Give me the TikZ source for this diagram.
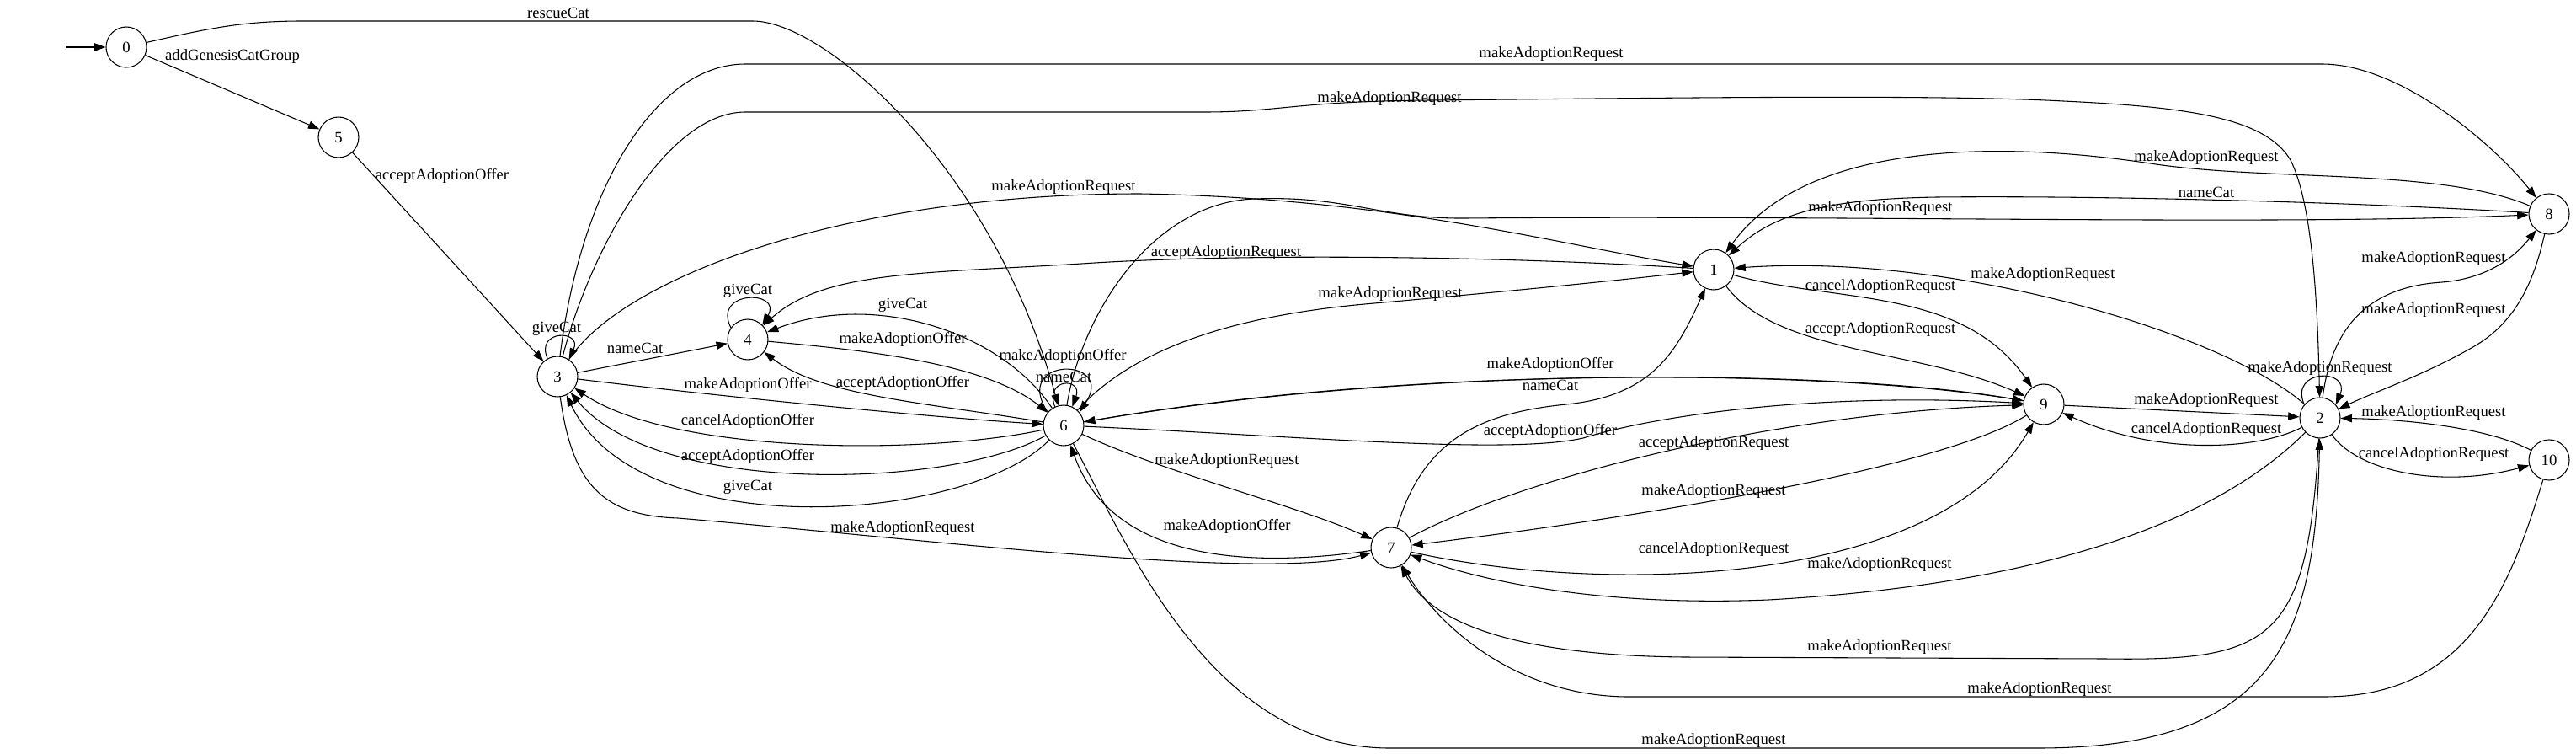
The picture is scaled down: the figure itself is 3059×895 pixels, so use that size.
\documentclass[tikz,border=0pt]{standalone}
\usepackage{fontspec}
\setmainfont{Liberation Serif}
\usetikzlibrary{arrows.meta}
\tikzset{
  st/.style={circle, draw, line width=0.8pt, minimum size=36pt, inner sep=0pt, font=\fontsize{14}{16}\selectfont},
  lbl/.style={inner sep=0pt, font=\fontsize{14}{16}\selectfont},
  tr/.style={draw, line width=0.8pt, -{Triangle[length=10pt,width=7pt]}},
}
\begin{document}
\begin{tikzpicture}[x=0.75pt,y=-0.75pt]
\useasboundingbox (0,0) rectangle (3059,895);
% states
\node[st] (n0) at (150,56) {0};
\node[st] (n5) at (402,163) {5};
\node[st] (n3) at (662,447) {3};
\node[st] (n4) at (888,403) {4};
\node[st] (n6) at (1263,505) {6};
\node[st] (n7) at (1652,650) {7};
\node[st] (n1) at (2035,320) {1};
\node[st] (n9) at (2427,480) {9};
\node[st] (n2) at (2755,496) {2};
\node[st] (n8) at (3027,254) {8};
\node[st] (n10) at (3027,546) {10};
\coordinate (s0) at (78,56);
% transitions
\draw[tr] (s0) -- (n0);
\draw[tr] (n0) -- (n5);
\draw[tr] (n0) .. controls (250,33) and (290,25) .. (360,25) -- (894,25) .. controls (980,25) and (1180,200) .. (n6);
\draw[tr] (n5) -- (n3);
\draw[tr] (n3.119) .. controls (635,391) and (692,391) .. (n3.56);
\draw[tr] (n3) -- (n4);
\draw[tr] (n4.145) .. controls (845,344) and (930,344) .. (n4.45);
\draw[tr] (n6) .. controls (1190,395) and (1040,345) .. (n4);
\draw[tr] (n1) .. controls (1800,305) and (1500,300) .. (1300,312) .. controls (1100,325) and (980,320) .. (n4);
\draw[tr] (n4) .. controls (1020,415) and (1170,430) .. (n6);
\draw[tr] (n6) .. controls (1100,478) and (975,470) .. (n4);
\draw[tr] (n3) .. controls (850,470) and (1100,495) .. (n6);
\draw[tr] (n6) .. controls (1100,540) and (800,540) .. (n3);
\draw[tr] (n6) .. controls (1130,580) and (780,590) .. (n3);
\draw[tr] (n6) .. controls (1150,620) and (760,650) .. (n3);
\draw[tr] (n3) .. controls (680,580) and (720,612) .. (805,615) .. controls (1100,640) and (1500,690) .. (n7);
\draw[tr] (n6) .. controls (1380,560) and (1540,600) .. (n7);
\draw[tr] (n7) .. controls (1480,675) and (1320,665) .. (n6);
\draw[tr] (n6) .. controls (1340,650) and (1440,888) .. (1650,888) -- (2420,888) .. controls (2700,888) and (2750,760) .. (n2);
\draw[tr] (n2) .. controls (2620,630) and (2400,695) .. (2100,712) .. controls (1900,720) and (1760,690) .. (n7);
\draw[tr] (n2) .. controls (2740,760) and (2700,785) .. (2500,782) -- (2000,780) .. controls (1800,778) and (1700,740) .. (n7);
\draw[tr] (n10) .. controls (2980,700) and (2930,827) .. (2760,827) -- (1930,827) .. controls (1800,825) and (1710,745) .. (n7);
\draw[tr] (n6) .. controls (1340,420) and (1450,375) .. (1632,360) .. controls (1800,345) and (1900,335) .. (n1);
\draw[tr] (n3) .. controls (740,330) and (1000,230) .. (1354,230) .. controls (1650,235) and (1850,290) .. (n1);
\draw[tr] (n6) .. controls (1285,370) and (1370,240) .. (1490,236) .. controls (1600,232) and (1640,260) .. (1740,259) .. controls (2200,255) and (2700,268) .. (n8);
\draw[tr] (n8) .. controls (2900,200) and (2700,215) .. (2560,195) .. controls (2400,170) and (2150,160) .. (n1);
\draw[tr] (n8) .. controls (2800,240) and (2500,232) .. (2300,234) .. controls (2180,236) and (2110,250) .. (n1);
\draw[tr] (n2) .. controls (2640,395) and (2320,300) .. (n1);
\draw[tr] (n1) .. controls (2180,360) and (2330,340) .. (n9);
\draw[tr] (n1) .. controls (2110,420) and (2280,415) .. (n9);
\draw[tr] (n9) -- (n2);
\draw[tr] (n2) .. controls (2680,535) and (2560,540) .. (n9);
\draw[tr] (n2.140) .. controls (2718,437) and (2792,437) .. (n2.40);
\draw[tr] (n2) .. controls (2800,560) and (2900,580) .. (n10);
\draw[tr] (n10) .. controls (2960,510) and (2870,498) .. (n2);
\draw[tr] (n2) .. controls (2770,380) and (2820,340) .. (2900,335) .. controls (2960,330) and (2990,300) .. (n8);
\draw[tr] (n8) .. controls (3010,330) and (2990,380) .. (2940,410) .. controls (2880,445) and (2820,465) .. (n2);
\draw[tr] (n3) .. controls (690,220) and (780,76) .. (885,76) -- (2757,76) .. controls (2850,76) and (2960,170) .. (n8);
\draw[tr] (n3) .. controls (700,300) and (790,133) .. (885,133) -- (1430,133) .. controls (1520,133) and (1540,120) .. (1700,119) .. controls (2000,116) and (2300,112) .. (2450,120) .. controls (2600,127) and (2690,140) .. (2720,190) .. controls (2745,240) and (2752,350) .. (n2);
\draw[tr] (n9) .. controls (2300,560) and (1900,620) .. (n7);
\draw[tr] (n7) .. controls (1800,570) and (2100,490) .. (n9);
\draw[tr] (n7) .. controls (1900,705) and (2300,700) .. (n9);
\draw[tr] (n7) .. controls (1690,520) and (1760,490) .. (1860,480) .. controls (1960,470) and (1990,420) .. (n1);
\draw[tr] (n6) .. controls (1550,518) and (1790,540) .. (1880,520) .. controls (1960,495) and (2150,465) .. (n9);
\draw[tr] (n6) .. controls (1700,430) and (2200,440) .. (n9);
\draw[tr] (n9) .. controls (2200,440) and (1700,430) .. (n6);
\draw[tr] (n6.140) .. controls (1200,423) and (1326,423) .. (n6.40);
\draw[tr] (n6.115) .. controls (1240,448) and (1286,448) .. (n6.65);
% labels
\node[lbl] (l1) at (276,67) {addGenesisCatGroup};
\node[lbl] (l2) at (663,15) {rescueCat};
\node[lbl] (l3) at (525,209) {acceptAdoptionOffer};
\node[lbl] (l4) at (661,390) {giveCat};
\node[lbl] (l5) at (754,413) {nameCat};
\node[lbl] (l6) at (888,345) {giveCat};
\node[lbl] (l7) at (1072,362) {giveCat};
\node[lbl] (l8) at (1072,403) {makeAdoptionOffer};
\node[lbl] (l9) at (1072,455) {acceptAdoptionOffer};
\node[lbl] (l10) at (888,457) {makeAdoptionOffer};
\node[lbl] (l11) at (888,500) {cancelAdoptionOffer};
\node[lbl] (l12) at (888,542) {acceptAdoptionOffer};
\node[lbl] (l13) at (888,578) {giveCat};
\node[lbl] (l14) at (1072,627) {makeAdoptionRequest};
\node[lbl] (l15) at (1842,64) {makeAdoptionRequest};
\node[lbl] (l16) at (1650,117) {makeAdoptionRequest};
\node[lbl] (l17) at (1263,222) {makeAdoptionRequest};
\node[lbl] (l18) at (1456,300) {acceptAdoptionRequest};
\node[lbl] (l19) at (1651,349) {makeAdoptionRequest};
\node[lbl] (l20) at (2233,247) {makeAdoptionRequest};
\node[lbl] (l21) at (2620,187) {makeAdoptionRequest};
\node[lbl] (l22) at (2620,228) {nameCat};
\node[lbl] (l23) at (2426,326) {makeAdoptionRequest};
\node[lbl] (l24) at (2233,340) {cancelAdoptionRequest};
\node[lbl] (l25) at (2233,391) {acceptAdoptionRequest};
\node[lbl] (l26) at (2890,307) {makeAdoptionRequest};
\node[lbl] (l27) at (2890,368) {makeAdoptionRequest};
\node[lbl] (l28) at (2755,437) {makeAdoptionRequest};
\node[lbl] (l29) at (2620,475) {makeAdoptionRequest};
\node[lbl] (l30) at (2620,510) {cancelAdoptionRequest};
\node[lbl] (l31) at (2890,490) {makeAdoptionRequest};
\node[lbl] (l32) at (2890,539) {cancelAdoptionRequest};
\node[lbl] (l33) at (1262,423) {makeAdoptionOffer};
\node[lbl] (l34) at (1263,447) {nameCat};
\node[lbl] (l35) at (1841,433) {makeAdoptionOffer};
\node[lbl] (l36) at (1841,457) {nameCat};
\node[lbl] (l37) at (1841,512) {acceptAdoptionOffer};
\node[lbl] (l38) at (2035,526) {acceptAdoptionRequest};
\node[lbl] (l39) at (2035,583) {makeAdoptionRequest};
\node[lbl] (l40) at (2035,652) {cancelAdoptionRequest};
\node[lbl] (l41) at (1457,547) {makeAdoptionRequest};
\node[lbl] (l42) at (1457,625) {makeAdoptionOffer};
\node[lbl] (l43) at (2232,670) {makeAdoptionRequest};
\node[lbl] (l44) at (2232,768) {makeAdoptionRequest};
\node[lbl] (l45) at (2422,818) {makeAdoptionRequest};
\node[lbl] (l46) at (2035,879) {makeAdoptionRequest};
\end{tikzpicture}
\end{document}
